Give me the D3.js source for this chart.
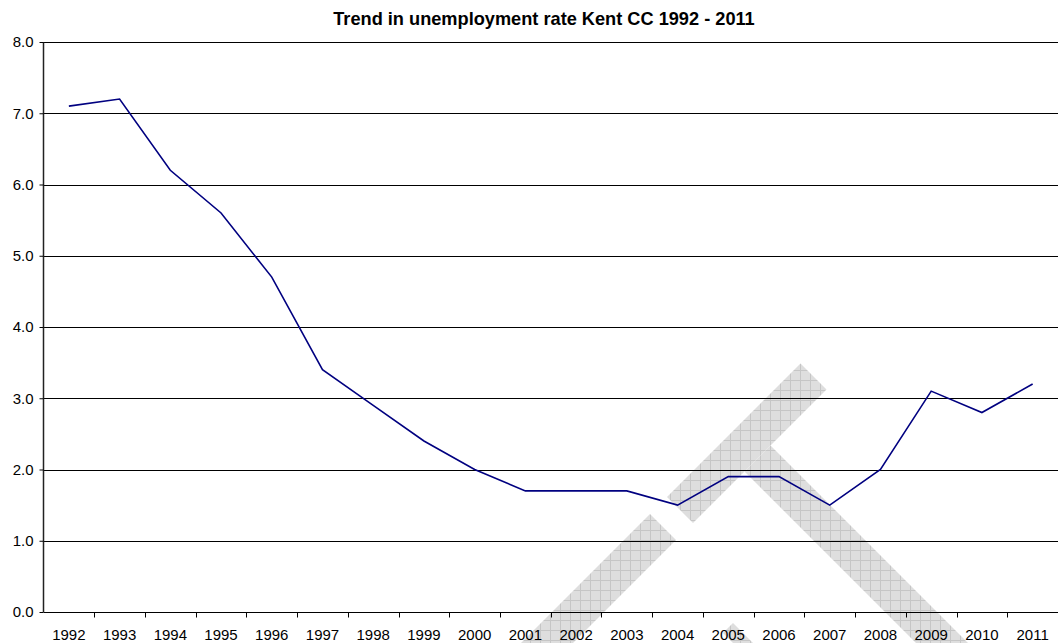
<!DOCTYPE html>
<html>
<head>
<meta charset="utf-8">
<script src="https://cdn.jsdelivr.net/npm/d3@7"></script>
<style>
  html, body { margin: 0; padding: 0; background: #fff; }
  svg { display: block; font-family: "Liberation Sans", Arial, sans-serif; }
</style>
</head>
<body>
<svg id="chart" width="1058" height="643"></svg>
<script>
// ---- Data ----
const years = ["1992","1993","1994","1995","1996","1997","1998","1999","2000","2001",
               "2002","2003","2004","2005","2006","2007","2008","2009","2010","2011"];
const rates = [7.1, 7.2, 6.2, 5.6, 4.7, 3.4, 2.9, 2.4, 2.0, 1.7,
               1.7, 1.7, 1.5, 1.9, 1.9, 1.5, 2.0, 3.1, 2.8, 3.2];
const yTicks = [0, 1, 2, 3, 4, 5, 6, 7, 8];
const titleText = "Trend in unemployment rate Kent CC 1992 - 2011";

// ---- Layout ----
const W = 1058, H = 643;
const margin = { left: 43.5, right: 0, top: 42, bottom: 31 };
const svg = d3.select("#chart");

const x = d3.scaleBand().domain(years).range([margin.left, W - margin.right]).paddingInner(0).paddingOuter(0);
const y = d3.scaleLinear().domain([0, 8]).range([H - margin.bottom, margin.top]);

// ---- Watermark (background, crosshatched grey bands) ----
const defs = svg.append("defs");
const pat = defs.append("pattern").attr("id", "hatch").attr("patternUnits", "userSpaceOnUse")
  .attr("width", 10).attr("height", 10);
pat.append("rect").attr("width", 10).attr("height", 10).attr("fill", "#dedede");
pat.append("line").attr("x1", 0).attr("y1", 0.5).attr("x2", 10).attr("y2", 0.5).attr("stroke", "#c6c6c6").attr("stroke-width", 1);
pat.append("line").attr("x1", 0.5).attr("y1", 0).attr("x2", 0.5).attr("y2", 10).attr("stroke", "#c6c6c6").attr("stroke-width", 1);

// bands defined in rotated coordinates: u = x + y, v = x - y
function band(u0, u1, v0, v1) {
  const pt = (u, v) => [(u + v) / 2, (u - v) / 2];
  return [pt(u0, v0), pt(u1, v0), pt(u1, v1), pt(u0, v1)];
}
const wm = [
  band(1164, 1216, -300, 136),
  band(1164, 1216, 170, 437),
  band(1216, 1900, 273, 325),
  band(1356, 1500, 90, 110)
];
svg.append("g").attr("class", "watermark")
  .selectAll("polygon").data(wm).join("polygon")
  .attr("points", d => d.map(p => p.join(",")).join(" "))
  .attr("fill", "url(#hatch)");

// ---- Gridlines ----
svg.append("g").attr("class", "grid")
  .selectAll("line").data(yTicks.filter(d => d > 0)).join("line")
  .attr("x1", margin.left).attr("x2", W - margin.right)
  .attr("y1", d => Math.round(y(d)) + 0.5).attr("y2", d => Math.round(y(d)) + 0.5)
  .attr("stroke", "#000").attr("stroke-width", 1);

// ---- Y axis ----
const yAxis = d3.axisLeft(y).tickValues(yTicks).tickFormat(d3.format(".1f")).tickSize(4).tickPadding(6);
const gy = svg.append("g").attr("transform", `translate(${margin.left},0)`).call(yAxis);
gy.select(".domain").attr("stroke", "#222").attr("stroke-width", 1.5).attr("d", `M0,${y(8)}V${y(0)}`);
gy.selectAll(".tick line").attr("stroke", "#000");
gy.selectAll(".tick text").attr("font-size", 15).attr("fill", "#000")
  .attr("font-family", "Liberation Sans, Arial, sans-serif");

// ---- X axis (ticks between categories) ----
const gx = svg.append("g").attr("transform", `translate(0,${Math.round(y(0)) + 0.5})`);
gx.append("line").attr("x1", margin.left).attr("x2", W).attr("y1", 0).attr("y2", 0).attr("stroke", "#000");
const boundaries = years.map(d => x(d)).concat([x(years[years.length - 1]) + x.bandwidth()]);
gx.selectAll("line.tk").data(boundaries.slice(1)).join("line").attr("class", "tk")
  .attr("x1", d => Math.round(d) + 0.5).attr("x2", d => Math.round(d) + 0.5)
  .attr("y1", 0).attr("y2", 5).attr("stroke", "#000");
gx.selectAll("text").data(years).join("text")
  .attr("x", d => x(d) + x.bandwidth() / 2).attr("y", 27)
  .attr("text-anchor", "middle").attr("font-size", 15).attr("fill", "#000")
  .text(d => d);

// ---- Line ----
const line = d3.line().x((d, i) => x(years[i]) + x.bandwidth() / 2).y(d => y(d));
svg.append("path").datum(rates).attr("d", line)
  .attr("fill", "none").attr("stroke", "#000080").attr("stroke-width", 1.6)
  .attr("stroke-linejoin", "miter");

// ---- Title ----
svg.append("text").attr("x", 544).attr("y", 25).attr("text-anchor", "middle")
  .attr("font-size", 18.2).attr("font-weight", "bold").attr("fill", "#000").text(titleText);
</script>
</body>
</html>
